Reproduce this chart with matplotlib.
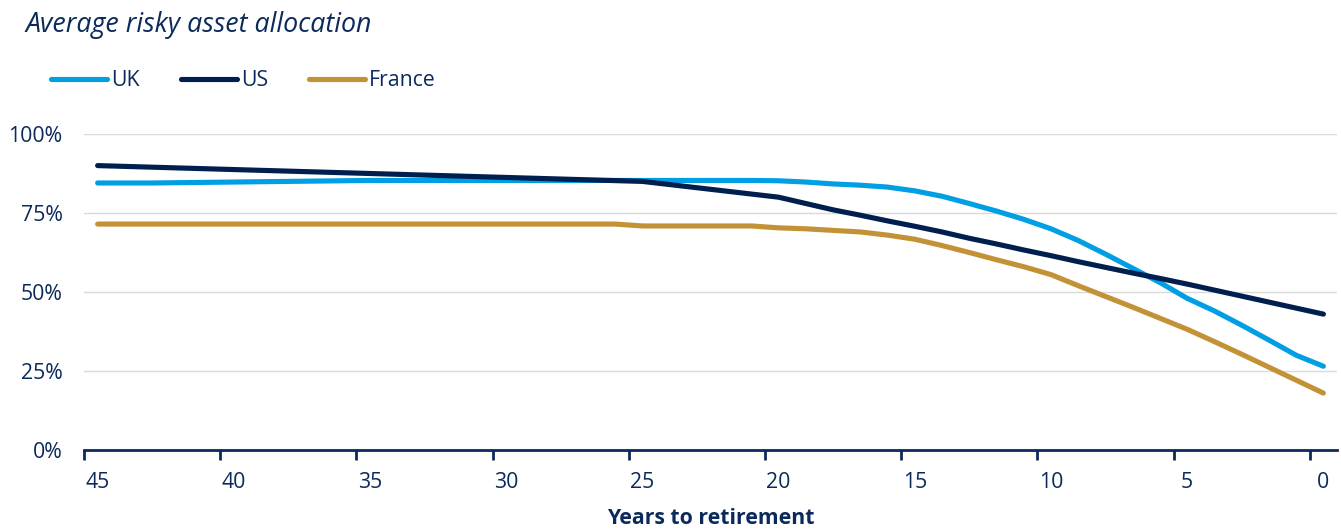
import numpy as np
import matplotlib
matplotlib.use("Agg")
import matplotlib.pyplot as plt
from matplotlib.ticker import FixedLocator, PercentFormatter

NAVY = "#0B2A5B"
GRID = "#DADADA"

years = list(range(45, -1, -1))

uk = [84.5, 84.5, 84.5, 84.6, 84.7, 84.8, 84.9, 85.0, 85.1, 85.2,
      85.3, 85.3, 85.3, 85.3, 85.3, 85.3, 85.3, 85.3, 85.3, 85.3,
      85.3, 85.3, 85.3, 85.3, 85.3, 85.2, 84.8, 84.2, 83.8, 83.2,
      82.0, 80.3, 78.0, 75.6, 73.0, 70.0, 66.3, 62.0, 57.5, 53.0,
      48.0, 44.0, 39.5, 34.8, 30.0, 26.5]

us = [90.0, 89.75, 89.5, 89.25, 89.0, 88.75, 88.5, 88.25, 88.0, 87.75,
      87.5, 87.25, 87.0, 86.75, 86.5, 86.25, 86.0, 85.75, 85.5, 85.25,
      85.0, 84.0, 83.0, 82.0, 81.0, 80.0, 78.0, 76.0, 74.3, 72.5,
      70.8, 69.0, 67.0, 65.2, 63.3, 61.5, 59.6, 57.8, 56.0, 54.3,
      52.5, 50.6, 48.7, 46.8, 44.9, 43.0]

france = [71.5, 71.5, 71.5, 71.5, 71.5, 71.5, 71.5, 71.5, 71.5, 71.5,
          71.5, 71.5, 71.5, 71.5, 71.5, 71.5, 71.5, 71.5, 71.5, 71.5,
          70.9, 70.9, 70.9, 70.9, 70.9, 70.3, 70.0, 69.5, 69.0, 68.0,
          66.7, 64.7, 62.5, 60.2, 58.0, 55.5, 52.0, 48.6, 45.2, 41.7,
          38.2, 34.3, 30.3, 26.2, 22.1, 18.0]

series = [("UK", uk, "#009FE3"), ("US", us, "#001E4E"), ("France", france, "#C39236")]

plt.rcParams["font.family"] = ["Open Sans", "DejaVu Sans"]
FS = 15.3

fig = plt.figure(figsize=(13.41, 5.29), dpi=100)
ax = fig.add_axes([84 / 1341, 1 - 450 / 529, 1253 / 1341, 316 / 529])

for name, vals, color in series:
    ax.plot(years, vals, color=color, lw=3.7, solid_capstyle="round",
            solid_joinstyle="round", label=name)

ax.set_xlim(45.5, -0.5)
ax.set_ylim(0, 100)

# category labels at every 5th year, tick marks between categories
ax.xaxis.set_major_locator(FixedLocator(list(range(45, -1, -5))))
ax.xaxis.set_minor_locator(FixedLocator([y + 0.5 for y in range(45, -1, -5)]))
ax.tick_params(axis="x", which="major", length=0, pad=16, labelsize=FS, labelcolor=NAVY)
ax.tick_params(axis="x", which="minor", length=7, width=2, color=NAVY, direction="out")

ax.set_yticks([0, 25, 50, 75, 100])
ax.yaxis.set_major_formatter(PercentFormatter(decimals=0))
ax.tick_params(axis="y", length=0, pad=15.5, labelsize=FS, labelcolor=NAVY)
ax.yaxis.grid(True, color=GRID, lw=1)
ax.set_axisbelow(True)

for side in ["top", "right", "left"]:
    ax.spines[side].set_visible(False)
ax.spines["bottom"].set_color(NAVY)
ax.spines["bottom"].set_linewidth(2)
ax.spines["bottom"].set_zorder(5)

ax.set_xlabel("Years to retirement", fontsize=FS, fontweight="bold",
              color=NAVY, labelpad=11)

fig.text(25 / 1341, 1 - 25 / 529, "Average risky asset allocation",
         fontsize=19.3, style="italic", color=NAVY, va="center", ha="left")

leg = fig.legend(loc="center left", bbox_to_anchor=(51 / 1341, 1 - 81 / 529),
                 ncol=3, frameon=False, fontsize=FS, handlelength=2.65,
                 handletextpad=0.2, columnspacing=1.9, borderpad=0,
                 borderaxespad=0)
for t in leg.get_texts():
    t.set_color(NAVY)

fig.savefig("out.png", dpi=100)
